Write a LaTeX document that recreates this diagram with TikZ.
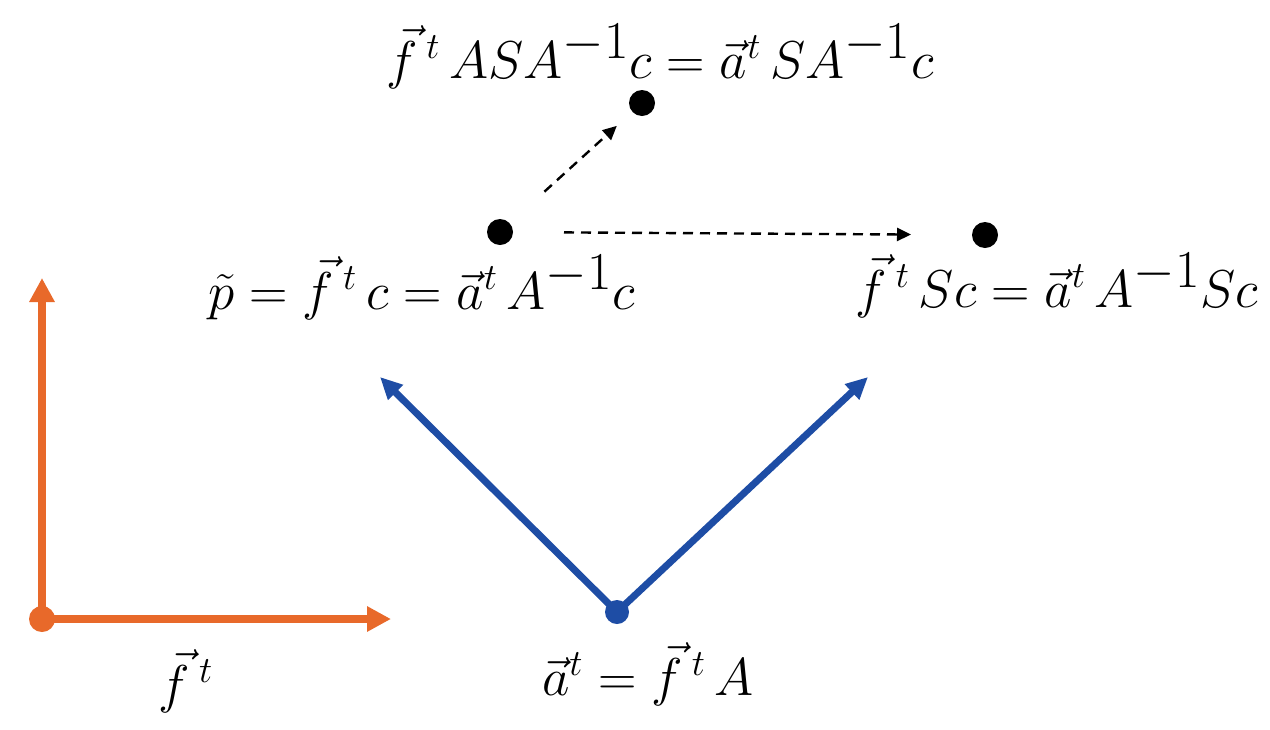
\documentclass[tikz,border=0pt]{standalone}
\usetikzlibrary{arrows.meta}
\definecolor{myorange}{HTML}{E8692A}
\definecolor{myblue}{HTML}{1E4DA5}
\newcommand{\ft}{\vec{f}^{\,\scriptscriptstyle t}}
\newcommand{\at}{\vec{a}^{\scriptscriptstyle t}}
\newcommand{\mylbl}[1]{\scalebox{1.07}{$#1$}}
\begin{document}
\begin{tikzpicture}[x=0.5pt,y=-0.5pt,
  lbl/.style={anchor=base,inner sep=0pt,font=\fontsize{37}{44}\selectfont},
  bdot/.style={circle,fill=black,inner sep=0pt,minimum size=13pt},
  odot/.style={circle,fill=myorange,inner sep=0pt,minimum size=13pt},
  bldot/.style={circle,fill=myblue,inner sep=0pt,minimum size=12pt},
  oarrow/.style={myorange,line width=4pt,-{Triangle[length=12pt,width=12pt]}},
  barrow/.style={myblue,line width=3.5pt,-{Triangle[length=11pt,width=10pt]}},
  darrow/.style={black,line width=1.2pt,dash pattern=on 5pt off 3.5pt,-{Triangle[length=7pt,width=6.5pt]}}]
\useasboundingbox (0,0) rectangle (1270,729);
% orange axes
\node[odot] (o) at (42,619) {};
\coordinate (oy) at (42,278);
\coordinate (ox) at (391,619);
\draw[oarrow] (o.center) -- (oy);
\draw[oarrow] (o.center) -- (ox);
\node[lbl] (flab) at (186,702) {\mylbl{\ft}};
% blue
\node[bldot] (b) at (617,612) {};
\coordinate (bl) at (380,377);
\coordinate (br) at (868,377);
\draw[barrow] (b.center) -- (bl);
\draw[barrow] (b.center) -- (br);
\node[lbl] (blab) at (648,695) {\mylbl{\at=\ft\,A}};
% black dots
\node[bdot] (p) at (500,232) {};
\node[bdot] (r) at (985,235) {};
\node[bdot] (q) at (642,103) {};
\node[lbl] (plab) at (422,309) {\mylbl{\tilde{p}=\ft\,c=\at\,A^{-1}c}};
\node[lbl] (rlab) at (1057,307) {\mylbl{\ft\,Sc=\at\,A^{-1}Sc}};
\node[lbl] (qlab) at (660,78) {\mylbl{\ft\,ASA^{-1}c=\at\,SA^{-1}c}};
\draw[darrow,shorten <=30pt,shorten >=17pt] (p.center) -- (q.center);
\draw[darrow,shorten <=32pt,shorten >=37pt] (p.center) -- (r.center);
\end{tikzpicture}
\end{document}
